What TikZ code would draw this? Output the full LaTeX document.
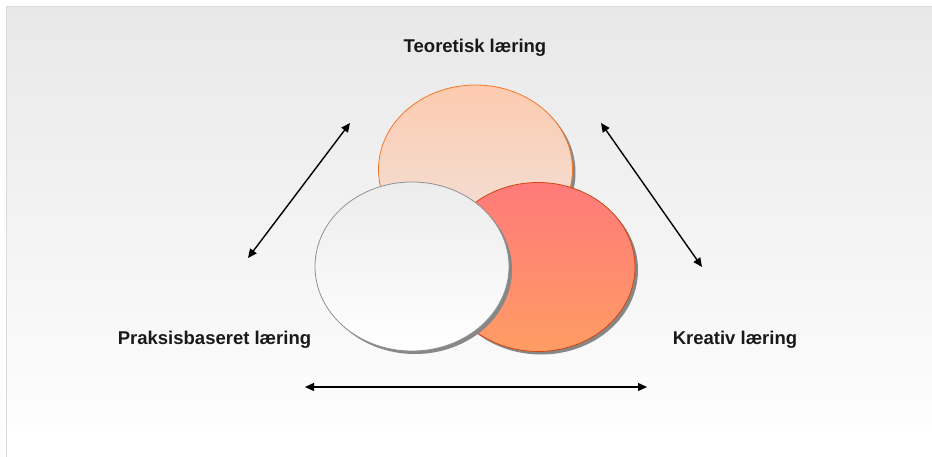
\documentclass[tikz,border=0pt]{standalone}
\usepackage{fontspec}
\setmainfont{Liberation Sans}
\usetikzlibrary{arrows.meta,shapes.geometric,shadows}
\definecolor{bgtop}{RGB}{232,232,232}
\definecolor{bgbot}{RGB}{253,253,253}
\definecolor{frameline}{RGB}{218,218,218}
\definecolor{peachtop}{RGB}{253,202,175}
\definecolor{peachbot}{RGB}{240,228,222}
\definecolor{peachline}{RGB}{240,120,40}
\definecolor{redtop}{RGB}{255,122,122}
\definecolor{redbot}{RGB}{255,156,100}
\definecolor{redline}{RGB}{205,70,20}
\definecolor{whitetop}{RGB}{236,236,236}
\definecolor{whitebot}{RGB}{255,255,255}
\definecolor{whiteline}{RGB}{145,145,145}
\definecolor{shadowgray}{RGB}{135,135,135}
\tikzset{
  circ/.style={ellipse, inner sep=0pt, outer sep=0pt, minimum width=194pt, minimum height=169pt,
    line width=0.8pt,
    drop shadow={shadow xshift=3pt, shadow yshift=-3pt, fill=shadowgray, opacity=1}},
  lbl/.style={font=\fontsize{18.5pt}{22pt}\selectfont\bfseries, inner sep=0pt, text=black!90},
  dbl/.style={line width=1.4pt, {Triangle[length=9pt,width=8pt]}-{Triangle[length=9pt,width=8pt]}}
}
\begin{document}
\begin{tikzpicture}[x=1pt,y=-1pt]
\useasboundingbox (0,0) rectangle (932,457);
\fill[white] (0,0) rectangle (932,457);
\shade[top color=bgtop, bottom color=bgbot] (6,7) rectangle (932,424);
\draw[frameline, line width=1pt] (6,457) -- (6,7) -- (932,7);

\node[circ, draw=peachline, top color=peachtop, bottom color=peachbot] (teo) at (475.5,169.5) {};
\node[circ, draw=redline, top color=redtop, bottom color=redbot] (kre) at (538,267) {};
\node[circ, draw=whiteline, top color=whitetop, bottom color=whitebot] (pra) at (412,266.5) {};

\node[lbl] (tteo) at (475,48) {Teoretisk læring};
\node[lbl] (tpra) at (214.5,340) {Praksisbaseret læring};
\node[lbl] (tkre) at (735,340) {Kreativ læring};

\coordinate (a1) at (350,123);
\coordinate (a2) at (248,258);
\coordinate (b1) at (601,123);
\coordinate (b2) at (702,267);
\coordinate (c1) at (305,387);
\coordinate (c2) at (647,387);
\draw[dbl] (a1) -- (a2);
\draw[dbl] (b1) -- (b2);
\draw[dbl] (c1) -- (c2);
\end{tikzpicture}
\end{document}
